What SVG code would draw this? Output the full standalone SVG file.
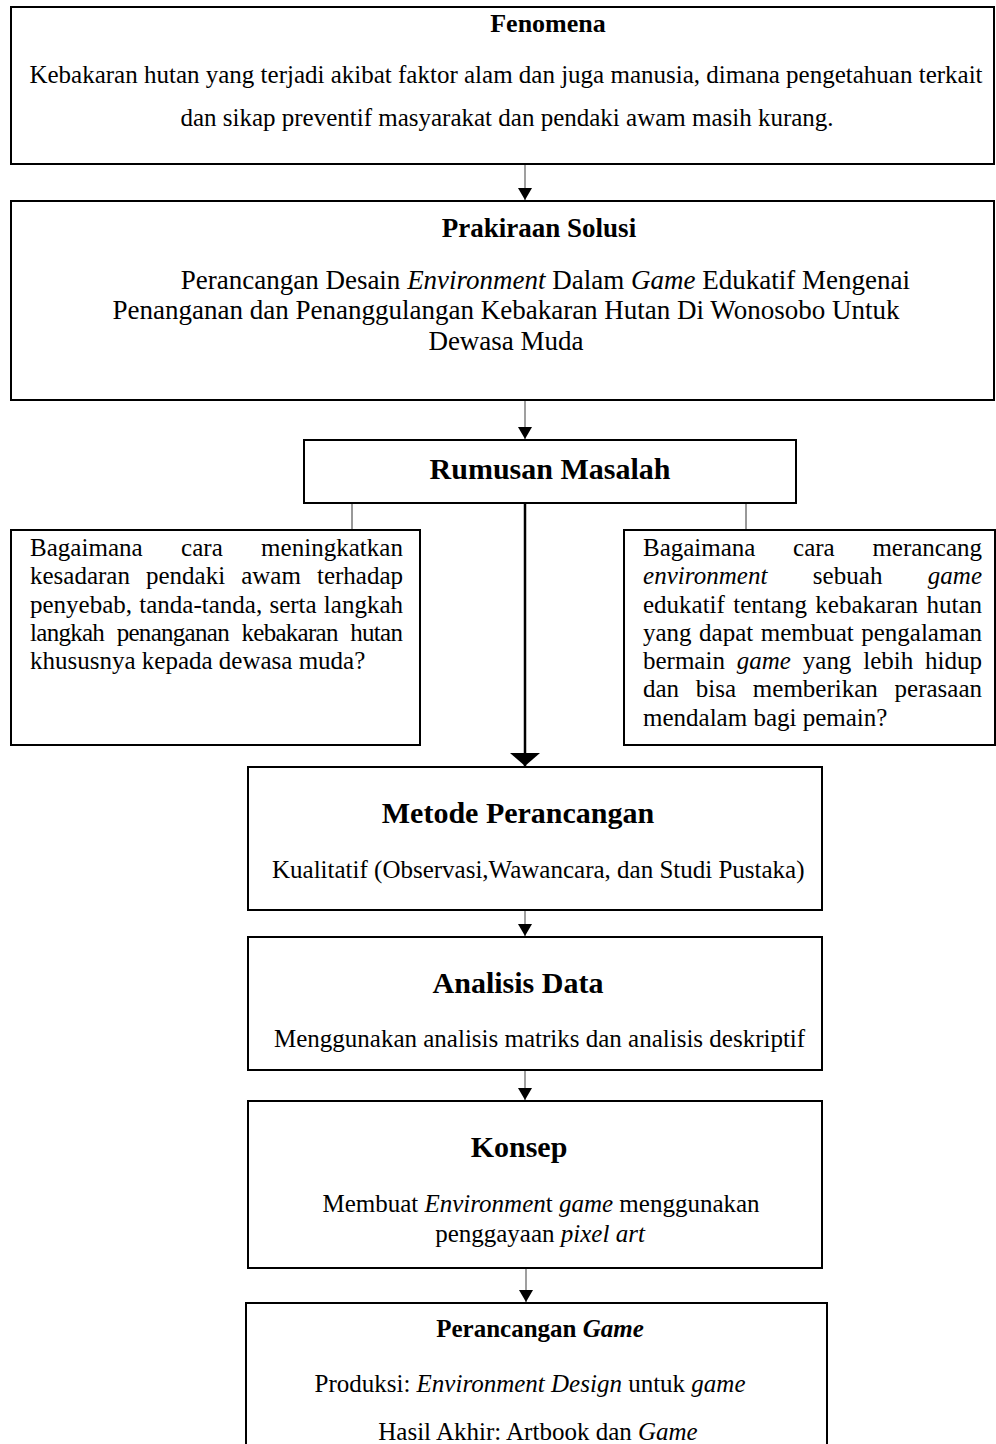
<svg xmlns="http://www.w3.org/2000/svg" width="996" height="1444" viewBox="0 0 996 1444">
<style>
  text { font-family: "Liberation Serif", "Times New Roman", serif; fill: #000; }
  .t { font-size: 25px; }
  .tp { font-size: 27px; }
  .h { font-size: 26px; font-weight: bold; }
  .hp { font-size: 27px; font-weight: bold; }
  .H { font-size: 30px; font-weight: bold; }
  .hg { font-size: 25px; font-weight: bold; }
  .box { fill: #fff; stroke: #000; stroke-width: 2; }
  .c { text-anchor: middle; }
  .e { text-anchor: end; }
  .i { font-style: italic; }
  .thin { stroke: #7f7f7f; stroke-width: 1.5; fill: none; }
  .stub { stroke: #333; stroke-width: 1; fill: none; }
  .thick { stroke: #000; stroke-width: 2.5; fill: none; }
</style>
<defs>
  <marker id="ah" viewBox="0 0 12 14" refX="12" refY="7" markerWidth="12" markerHeight="14" markerUnits="userSpaceOnUse" orient="auto">
    <path d="M0,0 L12,7 L0,14 z" fill="#000"/>
  </marker>
  <marker id="ahb" viewBox="0 0 13 30" refX="13" refY="15" markerWidth="13" markerHeight="30" markerUnits="userSpaceOnUse" orient="auto">
    <path d="M0,0 L13,15 L0,30 z" fill="#000"/>
  </marker>
</defs>

<g id="connectors">
  <line class="thin" x1="525" y1="165" x2="525" y2="200" marker-end="url(#ah)"/>
  <line class="thin" x1="525" y1="401" x2="525" y2="439" marker-end="url(#ah)"/>
  <line class="stub" x1="352" y1="503" x2="352" y2="530"/>
  <line class="stub" x1="746" y1="503" x2="746" y2="530"/>
  <line class="thick" x1="525" y1="503" x2="525" y2="766" marker-end="url(#ahb)"/>
  <line class="thin" x1="525" y1="911" x2="525" y2="936" marker-end="url(#ah)"/>
  <line class="thin" x1="525" y1="1071" x2="525" y2="1100" marker-end="url(#ah)"/>
  <line class="thin" x1="526" y1="1269" x2="526" y2="1302" marker-end="url(#ah)"/>
</g>

<g id="fenomena">
  <rect class="box" x="11" y="7" width="983" height="157"/>
  <text class="h c" x="548" y="32">Fenomena</text>
  <text class="t c" x="506" y="83">Kebakaran hutan yang terjadi akibat faktor alam dan juga manusia, dimana pengetahuan terkait</text>
  <text class="t c" x="507" y="126">dan sikap preventif masyarakat dan pendaki awam masih kurang.</text>
</g>

<g id="prakiraan-solusi">
  <rect class="box" x="11" y="201" width="983" height="199"/>
  <text class="hp c" x="539" y="237">Prakiraan Solusi</text>
  <text class="tp e" x="910" y="289">Perancangan Desain <tspan class="i">Environment</tspan> Dalam <tspan class="i">Game</tspan> Edukatif Mengenai</text>
  <text class="tp c" x="506" y="319">Penanganan dan Penanggulangan Kebakaran Hutan Di Wonosobo Untuk</text>
  <text class="tp c" x="506" y="350">Dewasa Muda</text>
</g>

<g id="rumusan-masalah">
  <rect class="box" x="304" y="440" width="492" height="63"/>
  <text class="H c" x="550" y="479">Rumusan Masalah</text>
</g>

<g id="rumusan-kiri">
  <rect class="box" x="11" y="530" width="409" height="215"/>
  <text class="t" x="30" y="556" word-spacing="32" textLength="373" lengthAdjust="spacing">Bagaimana cara meningkatkan</text>
  <text class="t" x="30" y="584" word-spacing="9.8" textLength="373" lengthAdjust="spacing">kesadaran pendaki awam terhadap</text>
  <text class="t" x="30" y="613" word-spacing="1" textLength="373" lengthAdjust="spacing">penyebab, tanda-tanda, serta langkah</text>
  <text class="t" x="30" y="641" word-spacing="7" textLength="373" lengthAdjust="spacing">langkah penanganan kebakaran hutan</text>
  <text class="t" x="30" y="669">khususnya kepada dewasa muda?</text>
</g>

<g id="rumusan-kanan">
  <rect class="box" x="624" y="530" width="371" height="215"/>
  <text class="t" x="643" y="556" word-spacing="31.5" textLength="339" lengthAdjust="spacing">Bagaimana cara merancang</text>
  <text class="t" x="643" y="584" word-spacing="39" textLength="339" lengthAdjust="spacing"><tspan class="i">environment</tspan> sebuah <tspan class="i">game</tspan></text>
  <text class="t" x="643" y="613" word-spacing="2.2" textLength="339" lengthAdjust="spacing">edukatif tentang kebakaran hutan</text>
  <text class="t" x="643" y="641" word-spacing="1.3" textLength="339" lengthAdjust="spacing">yang dapat membuat pengalaman</text>
  <text class="t" x="643" y="669" word-spacing="5.6" textLength="339" lengthAdjust="spacing">bermain <tspan class="i">game</tspan> yang lebih hidup</text>
  <text class="t" x="643" y="697" word-spacing="10.5" textLength="339" lengthAdjust="spacing">dan bisa memberikan perasaan</text>
  <text class="t" x="643" y="726">mendalam bagi pemain?</text>
</g>

<g id="metode-perancangan">
  <rect class="box" x="248" y="767" width="574" height="143"/>
  <text class="H c" x="518" y="823">Metode Perancangan</text>
  <text class="t" x="272" y="878">Kualitatif (Observasi,Wawancara, dan Studi Pustaka)</text>
</g>

<g id="analisis-data">
  <rect class="box" x="248" y="937" width="574" height="133"/>
  <text class="H c" x="518" y="993">Analisis Data</text>
  <text class="t" x="274" y="1047">Menggunakan analisis matriks dan analisis deskriptif</text>
</g>

<g id="konsep">
  <rect class="box" x="248" y="1101" width="574" height="167"/>
  <text class="H c" x="519" y="1157">Konsep</text>
  <text class="t c" x="541" y="1212">Membuat <tspan class="i">Environmen</tspan>t <tspan class="i">game</tspan> menggunakan</text>
  <text class="t c" x="540" y="1242">penggayaan <tspan class="i">pixel art</tspan></text>
</g>

<g id="perancangan-game">
  <rect class="box" x="246" y="1303" width="581" height="160"/>
  <text class="hg c" x="540" y="1337">Perancangan <tspan class="i">Game</tspan></text>
  <text class="t c" x="530" y="1392">Produksi: <tspan class="i">Environment Design</tspan> untuk <tspan class="i">game</tspan></text>
  <text class="t c" x="538" y="1440">Hasil Akhir: Artbook dan <tspan class="i">Game</tspan></text>
</g>
</svg>
